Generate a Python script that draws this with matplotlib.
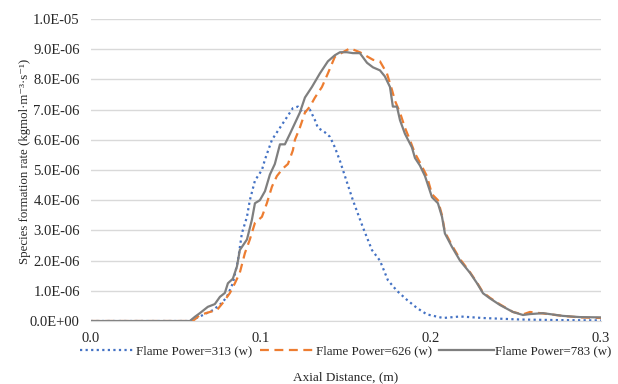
import numpy as np
import matplotlib
matplotlib.use("Agg")
import matplotlib.pyplot as plt
from matplotlib.ticker import FixedLocator

plt.rcParams['font.family'] = ['Liberation Serif', 'DejaVu Serif']

# Flame Power = 313 W
x313 = [0.0, 0.058, 0.0641, 0.0718, 0.0771, 0.080, 0.0835, 0.0865, 0.0888, 0.0918,
        0.0935, 0.0965, 0.1006, 0.1024, 0.1065, 0.1112, 0.1153, 0.1188, 0.1218, 0.1247,
        0.1288, 0.1318, 0.1335, 0.1376, 0.1406, 0.1435, 0.1465, 0.1494, 0.1541, 0.160,
        0.1653, 0.170, 0.1747, 0.180, 0.1859, 0.1918, 0.1976, 0.2071, 0.2171, 0.2306,
        0.2524, 0.2759, 0.30]
y313 = [0.0, 0.0, 0.15, 0.36, 0.60, 0.80, 1.25, 2.00, 2.90, 3.45,
        4.00, 4.65, 5.00, 5.35, 6.00, 6.40, 6.75, 7.05, 7.10, 6.90,
        7.00, 6.65, 6.40, 6.25, 6.10, 5.75, 5.30, 4.80, 4.00, 3.10,
        2.35, 2.00, 1.35, 1.00, 0.70, 0.43, 0.22, 0.10, 0.15, 0.10,
        0.05, 0.03, 0.02]

# Flame Power = 626 W
x626 = [0.0, 0.060, 0.0641, 0.070, 0.0741, 0.0776, 0.0818, 0.0847, 0.0876, 0.0906,
        0.0935, 0.0965, 0.1006, 0.1035, 0.1065, 0.1094, 0.1129, 0.1159, 0.1188, 0.120,
        0.1229, 0.1259, 0.1288, 0.1318, 0.1359, 0.1394, 0.1435, 0.1482, 0.1524, 0.1582,
        0.1659, 0.170, 0.1741, 0.1771, 0.1788, 0.1818, 0.1847, 0.1876, 0.1906, 0.1935,
        0.1976, 0.2006, 0.2041, 0.2065, 0.2082, 0.2124, 0.2171, 0.2229, 0.2271, 0.2306,
        0.2347, 0.2406, 0.2482, 0.2541, 0.2582, 0.2659, 0.2776, 0.2876, 0.30]
y626 = [0.0, 0.0, 0.20, 0.30, 0.36, 0.60, 0.93, 1.25, 1.60, 2.25,
        2.70, 3.25, 3.45, 3.90, 4.45, 4.80, 5.05, 5.20, 5.65, 6.00,
        6.40, 6.90, 7.10, 7.40, 7.75, 8.20, 8.75, 8.90, 9.03, 8.90,
        8.65, 8.60, 8.20, 7.65, 7.30, 6.90, 6.40, 6.00, 5.55, 5.25,
        4.80, 4.20, 4.00, 3.50, 2.95, 2.50, 2.05, 1.62, 1.27, 0.95,
        0.77, 0.55, 0.30, 0.22, 0.30, 0.25, 0.17, 0.12, 0.10]

# Flame Power = 783 W
x783 = [0.0, 0.0582, 0.0612, 0.0641, 0.0688, 0.0729, 0.0759, 0.0788, 0.0806, 0.0835,
        0.0859, 0.0876, 0.0918, 0.0947, 0.0965, 0.0994, 0.1024, 0.1053, 0.1082, 0.1112,
        0.1141, 0.1171, 0.120, 0.1229, 0.1259, 0.130, 0.1347, 0.1394, 0.1435, 0.1465,
        0.1506, 0.1541, 0.1582, 0.1624, 0.1659, 0.170, 0.1729, 0.1759, 0.1776, 0.180,
        0.1818, 0.1847, 0.1888, 0.1906, 0.1935, 0.1965, 0.2006, 0.2041, 0.2065, 0.2082,
        0.2124, 0.2171, 0.2229, 0.2271, 0.2306, 0.2347, 0.2406, 0.2482, 0.2541, 0.2582,
        0.2659, 0.2776, 0.2876, 0.30]
y783 = [0.0, 0.0, 0.14, 0.26, 0.47, 0.56, 0.80, 0.93, 1.25, 1.40,
        1.80, 2.35, 2.70, 3.35, 3.90, 4.00, 4.30, 4.85, 5.20, 5.85,
        5.85, 6.20, 6.55, 6.90, 7.40, 7.75, 8.20, 8.60, 8.80, 8.90,
        8.90, 8.87, 8.87, 8.55, 8.40, 8.30, 8.10, 7.75, 7.10, 7.10,
        6.65, 6.20, 5.75, 5.40, 5.15, 4.80, 4.10, 3.90, 3.45, 2.90,
        2.45, 2.00, 1.60, 1.25, 0.92, 0.75, 0.53, 0.30, 0.20, 0.23,
        0.26, 0.17, 0.13, 0.12]

y_ticks = np.arange(0, 11) * 1e-6
y_labels = ["%.1E" % v for v in y_ticks]
x_ticks = [0.0, 0.1, 0.2, 0.3]
x_labels = ["0.0", "0.1", "0.2", "0.3"]

fig = plt.figure(figsize=(6.18, 3.84), dpi=100)
ax = fig.add_axes([0.147, 0.164, 0.8255, 0.7865])

ax.plot(x313, np.array(y313) * 1e-6, color='#4472C4', linestyle=(0, (1, 1.5)),
        linewidth=1.6, label="Flame Power=313 (w)")
ax.plot(x626, np.array(y626) * 1e-6, color='#ED7D31', linestyle=(0, (4, 2.5)),
        linewidth=1.6, label="Flame Power=626 (w)")
ax.plot(x783, np.array(y783) * 1e-6, color='#7F7F7F', linestyle='-',
        linewidth=1.6, label="Flame Power=783 (w)")

ax.set_xlim(0, 0.3)
ax.set_ylim(0, 1e-5)
ax.yaxis.set_major_locator(FixedLocator(y_ticks))
ax.set_yticklabels(y_labels)
ax.xaxis.set_major_locator(FixedLocator(x_ticks))
ax.set_xticklabels(x_labels)
ax.grid(axis='y', color='#D9D9D9', linewidth=1)
ax.set_axisbelow(True)
for s in ['left', 'right', 'top']:
    ax.spines[s].set_visible(False)
ax.spines['bottom'].set_color('#D9D9D9')
ax.tick_params(axis='both', length=0, labelsize=10.5, colors='#262626')
ax.tick_params(axis='x', pad=8)
ax.tick_params(axis='y', pad=8)

ax.set_ylabel("Species formation rate (kgmol·m⁻³·s⁻¹)", fontsize=9.3, color='#262626')
ax.yaxis.set_label_coords(-0.118, 0.53)
ax.set_xlabel("Axial Distance, (m)", fontsize=9.5, color='#262626')
ax.xaxis.set_label_coords(0.5, -0.165)

ax.legend(loc='center', bbox_to_anchor=(0.5, -0.1), ncol=3, frameon=False,
          fontsize=9.3, handlelength=4.2, handletextpad=0.1, columnspacing=0.6,
          labelcolor='#262626')

plt.savefig("out.png", dpi=100)
